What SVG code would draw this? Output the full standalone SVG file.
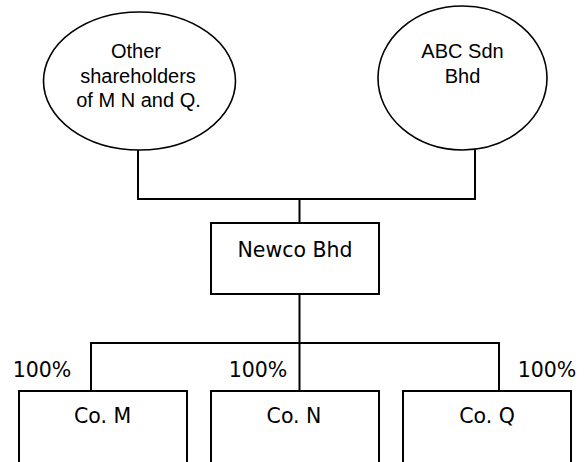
<svg xmlns="http://www.w3.org/2000/svg" width="586" height="462" viewBox="0 0 586 462">
<style>
.shape{fill:#fff;stroke:#000;stroke-width:2}
.ell{fill:#fff;stroke:#000;stroke-width:1.6}
.conn{fill:none;stroke:#000;stroke-width:2}
text{font-family:"DejaVu Sans","Verdana",sans-serif;fill:#000;text-anchor:middle}
.big{font-size:20.5px}
.sm{font-family:"Liberation Sans","Arial",sans-serif;font-size:20px}
</style>
<rect width="586" height="462" fill="#fff"/>
<g id="connectors">
<path class="conn" d="M138,150 V199 H475 V150"/>
<path class="conn" d="M299.5,199 V223"/>
<path class="conn" d="M299.5,294 V391"/>
<path class="conn" d="M91,391 V343 H499 V391"/>
</g>
<g id="other-shareholders">
<ellipse class="ell" cx="139.5" cy="81" rx="96" ry="69"/>
<text class="sm" x="136" y="58">Other</text>
<text class="sm" x="138" y="83">shareholders</text>
<text class="sm" x="138.5" y="107">of M N and Q.</text>
</g>
<g id="abc">
<ellipse class="ell" cx="462.5" cy="78" rx="84.5" ry="72"/>
<text class="sm" x="462.5" y="58">ABC Sdn</text>
<text class="sm" x="462.5" y="82.5">Bhd</text>
</g>
<g id="newco">
<rect class="shape" x="211" y="223" width="168" height="71"/>
<text class="big" x="295" y="256.5">Newco Bhd</text>
</g>
<g id="co-m">
<rect class="shape" x="19" y="391" width="168" height="80"/>
<text class="big" x="102.5" y="423">Co. M</text>
</g>
<g id="co-n">
<rect class="shape" x="211" y="391" width="168" height="80"/>
<text class="big" x="294" y="423">Co. N</text>
</g>
<g id="co-q">
<rect class="shape" x="403" y="391" width="168" height="80"/>
<text class="big" x="487" y="423">Co. Q</text>
</g>
<g id="labels">
<text class="big" x="42" y="376.5">100%</text>
<text class="big" x="258" y="376.5">100%</text>
<text class="big" x="547" y="376.5">100%</text>
</g>
</svg>
